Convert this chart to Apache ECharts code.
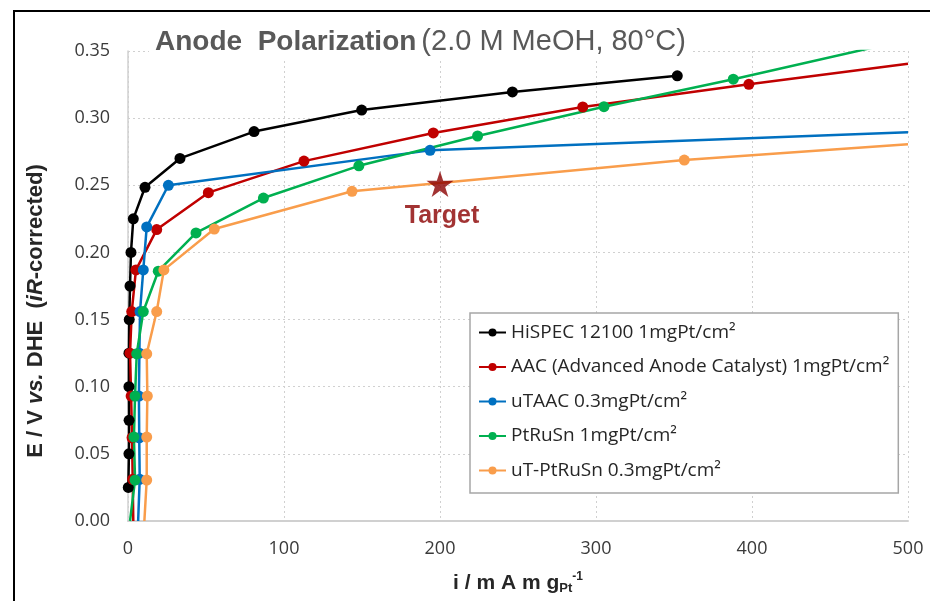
<!DOCTYPE html>
<html>
<head>
<meta charset="utf-8">
<script src="https://cdn.jsdelivr.net/npm/echarts/dist/echarts.min.js"></script>
<style>
  html, body { margin: 0; padding: 0; background: #fff; }
  #main { width: 930px; height: 601px; }
</style>
</head>
<body>
<div id="main"></div>
<script>
// current density (mA/mgPt) and potential (V)
var hispecI = [0.2, 0.6, 0.7, 0.6, 0.6, 0.8, 1.3, 1.9, 3.4, 10.9, 33.3, 80.8, 149.8, 246.4, 352.1];
var hispecE = [0.025, 0.05, 0.075, 0.1, 0.125, 0.15, 0.175, 0.2, 0.225, 0.2485, 0.270, 0.290, 0.306, 0.3195, 0.3315];

var aacI = [3.4, 3.0, 2.6, 2.0, 1.3, 2.4, 5.1, 18.4, 51.5, 112.8, 195.7, 291.5, 398.0, 500];
var aacE = [0, 0.031, 0.062, 0.093, 0.125, 0.156, 0.187, 0.217, 0.2445, 0.268, 0.289, 0.3083, 0.3252, 0.3405];

var utaacI = [6.5, 7.5, 7.2, 7.0, 7.3, 7.7, 9.8, 12.0, 25.9, 193.6, 500];
var utaacE = [0, 0.031, 0.062, 0.093, 0.125, 0.156, 0.187, 0.219, 0.250, 0.276, 0.2895];

var ptrusnI = [1.3, 4.5, 3.8, 4.5, 5.6, 9.8, 19.4, 43.6, 86.8, 148, 224.1, 305.1, 388, 500];
var ptrusnE = [0, 0.0305, 0.0625, 0.093, 0.1245, 0.156, 0.186, 0.2145, 0.2405, 0.2645, 0.2867, 0.3085, 0.329, 0.3585];

var utptI = [10.5, 12.0, 12.0, 12.4, 12.0, 18.4, 23.0, 55.3, 143.6, 356.6, 500];
var utptE = [0, 0.0305, 0.0625, 0.093, 0.1245, 0.156, 0.187, 0.2174, 0.2455, 0.2688, 0.2805];

var targetI = [200];
var targetE = [0.251];

var seriesNames = ['HiSPEC 12100 1mgPt/cm\u00b2', 'AAC (Advanced Anode Catalyst) 1mgPt/cm\u00b2',
  'uTAAC 0.3mgPt/cm\u00b2', 'PtRuSn 1mgPt/cm\u00b2', 'uT-PtRuSn 0.3mgPt/cm\u00b2'];
var seriesColors = ['#000000', '#C00000', '#0070C0', '#00B050', '#F99D4B'];

var xTicks = [0, 100, 200, 300, 400, 500];
var yTicks = [0, 0.05, 0.10, 0.15, 0.20, 0.25, 0.30, 0.35];

// points on the plot border are the extended line ends, drawn without marker
function pts(iArr, eArr){
	var out = [];
	for (var k = 0; k < iArr.length; k++) {
		var p = {value: [iArr[k], eArr[k]]};
		if (eArr[k] === 0 || iArr[k] >= 500) p.symbol = 'none';
		out.push(p);
	}
	return out;
}

function lineSeries(name, color, data){
	return {
		name: name,
		type: 'line',
		data: data,
		symbol: 'circle',
		symbolSize: 11,
		showSymbol: true,
		clip: true,
		lineStyle: {color: color, width: 2.5},
		itemStyle: {color: color},
		emphasis: {disabled: true}
	};
}

var myChart = echarts.init(document.getElementById('main'));
var font = 'Open Sans';
var ink = '#262626';

var option = {
	backgroundColor: '#fff',
	animation: false,
	title: {
		text: '{b|Anode  Polarization} {n|(2.0 M MeOH, 80\u00b0C)}',
		left: 149,
		top: 24,
		padding: [2, 6],
		backgroundColor: '#fff',
		textStyle: {
			rich: {
				b: {fontFamily: 'Liberation Sans', fontWeight: 'bold', fontSize: 28, color: '#595959', lineHeight: 32},
				n: {fontFamily: 'Liberation Sans', fontWeight: 'normal', fontSize: 29, color: '#595959', lineHeight: 32}
			}
		}
	},
	grid: {left: 128, right: 22, top: 51, bottom: 80},
	legend: {
		orient: 'vertical',
		left: 470,
		top: 313,
		data: seriesNames,
		backgroundColor: '#fff',
		borderColor: '#A6A6A6',
		borderWidth: 1.5,
		padding: [10, 9, 13, 8],
		itemWidth: 27,
		itemHeight: 10,
		itemGap: 15.5,
		textStyle: {fontFamily: font, fontSize: 19, color: ink}
	},
	xAxis: {
		type: 'value',
		min: 0,
		max: 500,
		interval: 100,
		name: '{a|i / m A m g}{sub|Pt}{sup|-1}',
		nameLocation: 'middle',
		nameGap: 50,
		nameTextStyle: {
			rich: {
				a: {fontFamily: 'Liberation Sans', fontWeight: 'bold', fontSize: 21, color: ink, lineHeight: 24},
				sub: {fontFamily: 'Liberation Sans', fontWeight: 'bold', fontSize: 13, color: ink, verticalAlign: 'bottom', lineHeight: 12},
				sup: {fontFamily: 'Liberation Sans', fontWeight: 'bold', fontSize: 12, color: ink, verticalAlign: 'top', lineHeight: 16}
			}
		},
		axisLine: {lineStyle: {color: '#D0D0D0', width: 2}},
		axisTick: {show: false},
		axisLabel: {
			margin: 19,
			fontFamily: font,
			fontSize: 18,
			color: '#3a3a3a',
			formatter: function(v){ return xTicks.indexOf(v) >= 0 ? String(v) : ''; }
		},
		splitLine: {show: true, lineStyle: {color: '#D0D0D0', type: [2, 3], width: 1}}
	},
	yAxis: {
		type: 'value',
		min: 0,
		max: 0.35,
		interval: 0.05,
		name: '{a|E / V }{i|vs.}{a| DHE  (}{i|iR}{a|-corrected)}',
		nameLocation: 'middle',
		nameGap: 81,
		nameTextStyle: {
			padding: [0, 50, 0, 0],
			rich: {
				a: {fontFamily: 'Liberation Sans', fontWeight: 'bold', fontSize: 22, color: ink},
				i: {fontFamily: 'Liberation Sans', fontWeight: 'bold', fontStyle: 'italic', fontSize: 22, color: ink}
			}
		},
		axisLine: {show: true, lineStyle: {color: '#D0D0D0', width: 1.5}},
		axisTick: {show: false},
		axisLabel: {
			margin: 18,
			fontFamily: font,
			fontSize: 18,
			color: '#3a3a3a',
			formatter: function(v){
				for (var k = 0; k < yTicks.length; k++) if (Math.abs(yTicks[k] - v) < 1e-9) return yTicks[k].toFixed(2);
				return '';
			}
		},
		splitLine: {show: true, lineStyle: {color: '#D0D0D0', type: [2, 3], width: 1}}
	},
	graphic: [{
		type: 'polyline',
		silent: true,
		shape: {points: [[14, 601], [14, 11], [930, 11]]},
		style: {stroke: '#000', lineWidth: 2, fill: null}
	}],
	series: [
		lineSeries(seriesNames[0], seriesColors[0], pts(hispecI, hispecE)),
		lineSeries(seriesNames[1], seriesColors[1], pts(aacI, aacE)),
		lineSeries(seriesNames[2], seriesColors[2], pts(utaacI, utaacE)),
		lineSeries(seriesNames[3], seriesColors[3], pts(ptrusnI, ptrusnE)),
		lineSeries(seriesNames[4], seriesColors[4], pts(utptI, utptE)),
		{
			name: 'Target',
			type: 'scatter',
			data: [[targetI[0], targetE[0]]],
			symbol: 'path://M50,0 L61.2,34.5 L97.6,34.5 L68.2,55.9 L79.4,90.5 L50,69.1 L20.6,90.5 L31.8,55.9 L2.4,34.5 L38.8,34.5 Z',
			symbolSize: [27, 26],
			itemStyle: {color: '#8B0000'},
			z: 5,
			label: {
				show: true,
				position: 'bottom',
				distance: 7,
				offset: [2, 0],
				formatter: 'Target',
				fontFamily: 'Liberation Sans',
				fontWeight: 'bold',
				fontSize: 25,
				color: '#8B0000'
			}
		}
	]
};

myChart.setOption(option);
</script>
</body>
</html>
